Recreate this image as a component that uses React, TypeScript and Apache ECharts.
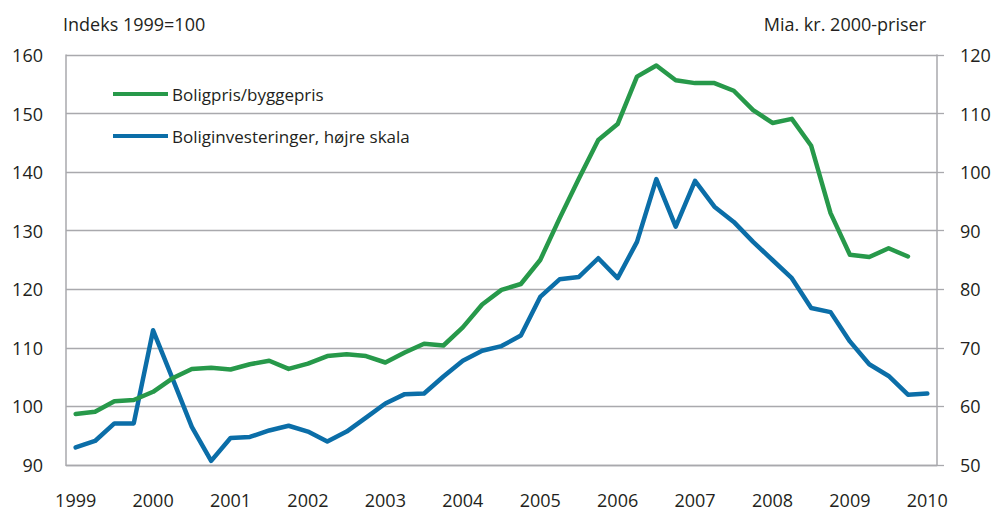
import React, { useEffect, useRef } from "react";
import * as echarts from "echarts";

const years = ["1999", "2000", "2001", "2002", "2003", "2004", "2005", "2006", "2007", "2008", "2009", "2010"];
const quarters = years.flatMap((y) => ["K1", "K2", "K3", "K4"].map((q) => `${y}${q}`)).slice(0, 45);

const boligprisByggepris = [
  98.7, 99.1, 100.9, 101.1, 102.5, 104.8, 106.4, 106.6,
  106.3, 107.2, 107.8, 106.4, 107.3, 108.6, 108.9, 108.6,
  107.5, 109.2, 110.7, 110.4, 113.5, 117.4, 119.9, 120.9,
  125.0, 132.1, 138.9, 145.5, 148.2, 156.3, 158.2, 155.7,
  155.2, 155.2, 153.9, 150.6, 148.4, 149.1, 144.5, 133.0,
  125.9, 125.5, 127.0, 125.6, null,
];

const boliginvesteringer = [
  53.0, 54.1, 57.1, 57.1, 73.0, 64.8, 56.5, 50.7,
  54.6, 54.8, 55.9, 56.7, 55.7, 54.0, 55.7, 58.1,
  60.5, 62.1, 62.2, 65.1, 67.8, 69.5, 70.3, 72.1,
  78.7, 81.7, 82.1, 85.3, 81.9, 88.1, 98.8, 90.7,
  98.5, 94.1, 91.5, 88.1, 85.0, 81.9, 76.8, 76.1,
  71.1, 67.2, 65.2, 62.0, 62.2,
];

const seriesNames = ["Boligpris/byggepris", "Boliginvesteringer, højre skala"];
const leftTitle = "Indeks 1999=100";
const rightTitle = "Mia. kr. 2000-priser";

const GREEN = "#27994a";
const BLUE = "#0b6ea8";
const GRID = "#a9a9ad";
const TEXT = "#231f20";
const FONT = "'Open Sans', sans-serif";

export default function App() {
  const ref = useRef<HTMLDivElement>(null);

  useEffect(() => {
    if (!ref.current) return;
    const chart = echarts.init(ref.current, null, { renderer: "svg" });
    chart.setOption({
      animation: false,
      backgroundColor: "#ffffff",
      textStyle: { fontFamily: FONT, color: TEXT },
      grid: { left: 66, right: 60, top: 55, bottom: 47, containLabel: false },
      graphic: [
        {
          type: "text",
          left: 63,
          top: 15,
          style: { text: leftTitle, font: `18px ${FONT}`, fill: TEXT },
        },
        {
          type: "text",
          right: 71,
          top: 15,
          style: { text: rightTitle, font: `18px ${FONT}`, fill: TEXT },
        },
      ],
      legend: {
        orient: "vertical",
        left: 113,
        top: 84,
        padding: 0,
        itemWidth: 55,
        itemHeight: 4,
        itemGap: 22,
        icon: "rect",
        textStyle: { fontFamily: FONT, fontSize: 17, color: TEXT, lineHeight: 20, padding: [0, 0, 0, -1] },
        data: seriesNames,
      },
      xAxis: {
        type: "category",
        data: quarters,
        boundaryGap: true,
        axisLine: { show: true, lineStyle: { color: GRID, width: 1.3 } },
        axisTick: { show: false },
        axisLabel: {
          interval: 3,
          margin: 26,
          fontSize: 18,
          fontFamily: FONT,
          color: TEXT,
          formatter: (v: string) => v.slice(0, 4),
        },
        splitLine: { show: false },
      },
      yAxis: [
        {
          type: "value",
          min: 90,
          max: 160,
          interval: 10,
          position: "left",
          axisLine: { show: true, lineStyle: { color: GRID, width: 1.5 } },
          axisTick: { show: false },
          axisLabel: { margin: 23, fontSize: 18, fontFamily: FONT, color: TEXT },
          splitLine: { show: true, lineStyle: { color: GRID, width: 1.3 } },
        },
        {
          type: "value",
          min: 50,
          max: 120,
          interval: 10,
          position: "right",
          axisLine: { show: true, lineStyle: { color: GRID, width: 1.5 } },
          axisTick: { show: true, inside: false, length: 7, lineStyle: { color: GRID, width: 1.3 } },
          axisLabel: { margin: 23, fontSize: 18, fontFamily: FONT, color: TEXT },
          splitLine: { show: false },
        },
      ],
      series: [
        {
          name: seriesNames[0],
          type: "line",
          yAxisIndex: 0,
          data: boligprisByggepris,
          symbol: "none",
          color: GREEN,
          lineStyle: { color: GREEN, width: 4.5, join: "round", cap: "round" },
          z: 3,
        },
        {
          name: seriesNames[1],
          type: "line",
          yAxisIndex: 1,
          data: boliginvesteringer,
          symbol: "none",
          color: BLUE,
          lineStyle: { color: BLUE, width: 4.5, join: "round", cap: "round" },
          z: 2,
        },
      ],
    });
    return () => chart.dispose();
  }, []);

  return (
    <div
      ref={ref}
      style={{ position: "fixed", left: 0, top: 0, width: 997, height: 512, background: "#fff" }}
    />
  );
}
